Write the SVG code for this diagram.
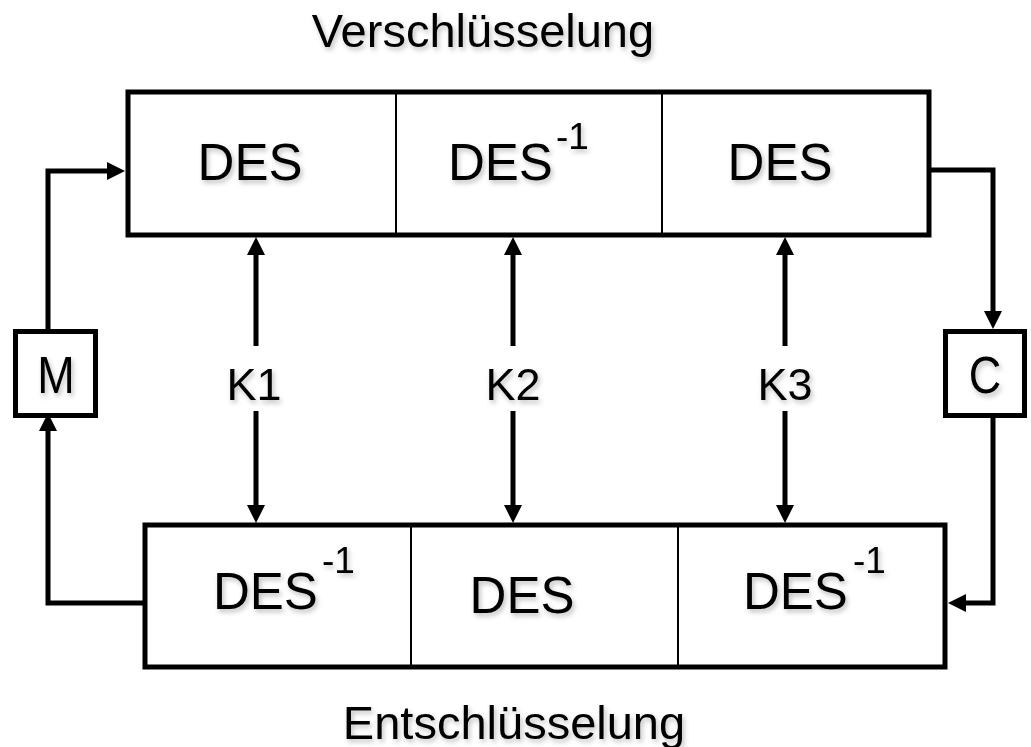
<svg xmlns="http://www.w3.org/2000/svg" width="1031" height="747" viewBox="0 0 1031 747">
<defs>
<filter id="sh" x="-10%" y="-10%" width="130%" height="140%">
<feDropShadow dx="2" dy="3" stdDeviation="2.5" flood-color="#000" flood-opacity="0.25"/>
</filter>
<marker id="ah" markerUnits="userSpaceOnUse" markerWidth="18" markerHeight="18" viewBox="0 0 18 18" refX="8" refY="9" orient="auto">
<path d="M0,0 L18,9 L0,18 z" fill="#000"/>
</marker>
<style>
.box{fill:#fff;stroke:#000;stroke-width:5}
.div{stroke:#000;stroke-width:2}
.con{fill:none;stroke:#000;stroke-width:5}
.t{font-family:"Liberation Sans",Arial,sans-serif;fill:#000;filter:url(#sh)}
.des{font-size:51px}
.sup{font-size:37px}
.k{font-size:45px;text-anchor:middle}
.ttl{font-size:47px;text-anchor:middle}
</style>
</defs>
<rect width="1031" height="747" fill="#fff"/>
<text class="t ttl" x="483" y="47">Verschlüsselung</text>
<text class="t ttl" x="514" y="739">Entschlüsselung</text>
<g id="connectors">
<path class="con" d="M144,603 H48 V423" marker-end="url(#ah)"/>
<path class="con" d="M48,331 V171 H115" marker-end="url(#ah)"/>
<path class="con" d="M929,170 H993 V319" marker-end="url(#ah)"/>
<path class="con" d="M993,418 V603 H958" marker-end="url(#ah)"/>
<path class="con" d="M256,346 V247" marker-end="url(#ah)"/>
<path class="con" d="M256,411 V513" marker-end="url(#ah)"/>
<path class="con" d="M513,346 V247" marker-end="url(#ah)"/>
<path class="con" d="M513,411 V513" marker-end="url(#ah)"/>
<path class="con" d="M785,346 V247" marker-end="url(#ah)"/>
<path class="con" d="M785,411 V513" marker-end="url(#ah)"/>
</g>
<g id="encrypt">
<rect class="box" x="128" y="92" width="801" height="143"/>
<line class="div" x1="396" y1="94" x2="396" y2="233"/>
<line class="div" x1="662" y1="94" x2="662" y2="233"/>
<text class="t des" x="250" y="180" text-anchor="middle">DES</text>
<text class="t des" x="448" y="180">DES<tspan class="sup" dx="3" dy="-31">-1</tspan></text>
<text class="t des" x="780" y="180" text-anchor="middle">DES</text>
</g>
<g id="decrypt">
<rect class="box" x="145" y="525" width="800" height="142"/>
<line class="div" x1="411" y1="527" x2="411" y2="665"/>
<line class="div" x1="678" y1="527" x2="678" y2="665"/>
<text class="t des" x="213" y="609">DES<tspan class="sup" dx="4" dy="-36">-1</tspan></text>
<text class="t des" x="522" y="613" text-anchor="middle">DES</text>
<text class="t des" x="743" y="609">DES<tspan class="sup" dx="5" dy="-36">-1</tspan></text>
</g>
<g id="M">
<rect class="box" x="15.5" y="331.5" width="80" height="84"/>
<text class="t k" transform="translate(56,393) scale(1,1.15)" font-size="46">M</text>
</g>
<g id="C">
<rect class="box" x="945.5" y="331.5" width="79" height="84"/>
<text class="t k" transform="translate(985,393) scale(1,1.15)" font-size="46">C</text>
</g>
<g id="keys">
<text class="t k" x="254" y="400">K1</text>
<text class="t k" x="513" y="400">K2</text>
<text class="t k" x="785" y="400">K3</text>
</g>
</svg>
